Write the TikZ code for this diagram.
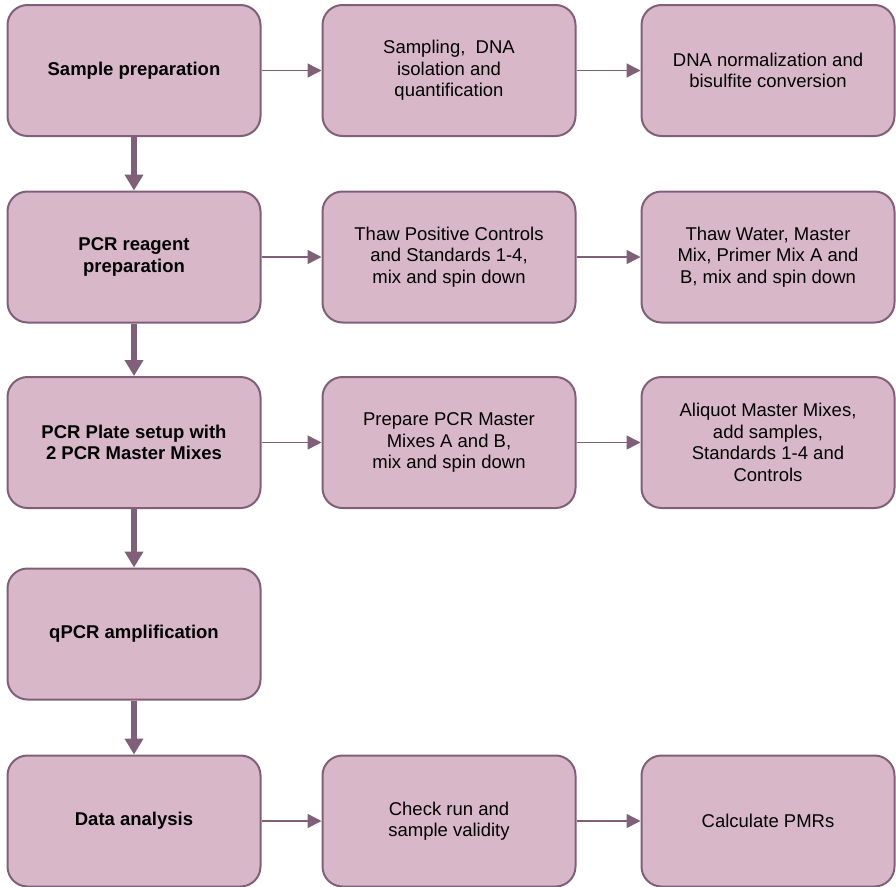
\documentclass[tikz,border=0pt]{standalone}
\usepackage{fontspec}
\setmainfont{Liberation Sans}
\usetikzlibrary{arrows.meta}

\definecolor{boxfill}{RGB}{216,184,200}
\definecolor{boxline}{RGB}{128,96,120}

\tikzset{
	stepbox/.style={draw=boxline, fill=boxfill, line width=2pt, rounded corners=20pt,
		minimum width=253pt, minimum height=131pt, align=center, inner sep=0pt,
		font=\fontsize{18.5}{21.5}\selectfont},
	mainbox/.style={stepbox, font=\fontsize{18.5}{21.5}\selectfont\bfseries},
	downarrow/.style={draw=boxline, line width=5.5pt, -{Triangle[width=18pt,length=16pt]}},
	sidearrow/.style={draw=boxline, line width=1.5pt, -{Triangle[width=14pt,length=14pt]}}
}

\begin{document}
\begin{tikzpicture}[x=1pt,y=-1pt]

	\useasboundingbox (0,0) rectangle (896,886);

	% main steps
	\node[mainbox] (sprep) at (134,70.5) {Sample preparation};
	\node[mainbox] (reagent) at (134,257) {PCR reagent\\preparation};
	\node[mainbox] (plate) at (134,442.5) {PCR Plate setup with\\2 PCR Master Mixes};
	\node[mainbox] (qpcr) at (134,634) {qPCR amplification};
	\node[mainbox] (analysis) at (134,821) {Data analysis};

	% sub steps
	\node[stepbox] (sampling) at (449,70.5) {Sampling,\ \ DNA\\isolation and\\quantification};
	\node[stepbox] (bisulf) at (768,70.5) {DNA normalization and\\bisulfite conversion};
	\node[stepbox] (thawctrl) at (449,257) {Thaw Positive Controls\\and Standards 1-4,\\mix and spin down};
	\node[stepbox] (thawmix) at (768,257) {Thaw Water, Master\\Mix, Primer Mix A and\\B, mix and spin down};
	\node[stepbox] (prepmix) at (449,442.5) {Prepare PCR Master\\Mixes A and B,\\mix and spin down};
	\node[stepbox] (aliquot) at (768,442.5) {Aliquot Master Mixes,\\add samples,\\Standards 1-4 and\\Controls};
	\node[stepbox] (validity) at (449,821) {Check run and\\sample validity};
	\node[stepbox] (pmr) at (768,821) {Calculate PMRs};

	% connectors
	\draw[downarrow] (sprep) -- (reagent);
	\draw[downarrow] (reagent) -- (plate);
	\draw[downarrow] (plate) -- (qpcr);
	\draw[downarrow] (qpcr) -- (analysis);

	\draw[sidearrow] (sprep) -- (sampling);
	\draw[sidearrow] (sampling) -- (bisulf);
	\draw[sidearrow] (reagent) -- (thawctrl);
	\draw[sidearrow] (thawctrl) -- (thawmix);
	\draw[sidearrow] (plate) -- (prepmix);
	\draw[sidearrow] (prepmix) -- (aliquot);
	\draw[sidearrow] (analysis) -- (validity);
	\draw[sidearrow] (validity) -- (pmr);

\end{tikzpicture}
\end{document}
